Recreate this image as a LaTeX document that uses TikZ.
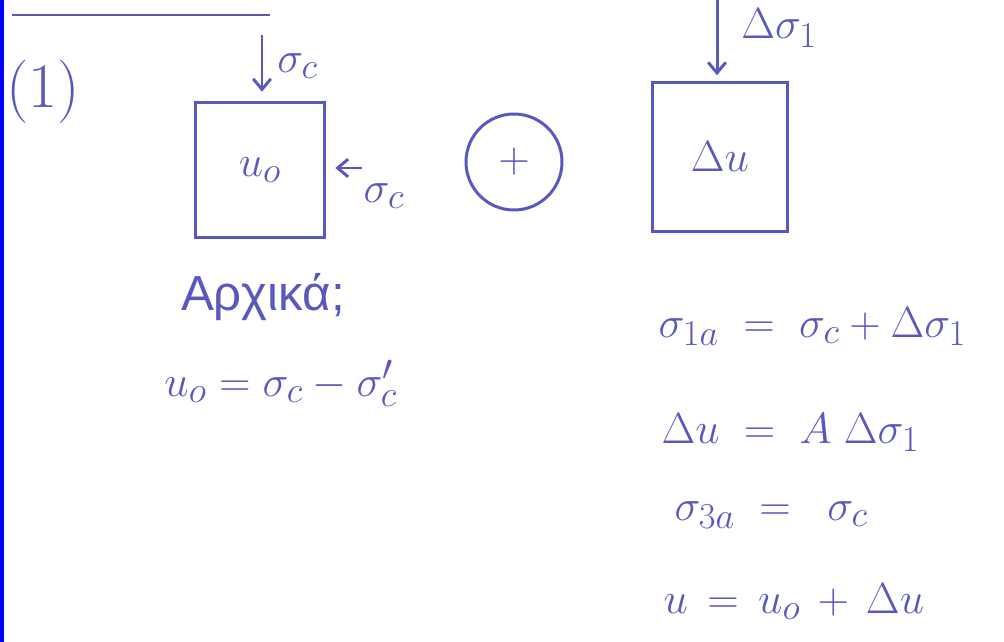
\documentclass[tikz,border=0pt]{standalone}
\usepackage{fontspec}
\usetikzlibrary{arrows.meta}
\newfontfamily\greekfont{Liberation Sans}
\definecolor{ink}{RGB}{88,88,190}
\begin{document}
\begin{tikzpicture}[x=0.02cm, y=-0.02cm, line width=1.7pt, color=ink,
    >={Straight Barb[length=6pt,width=10pt]},
    font=\fontsize{30}{36}\selectfont,
    elem/.style={draw, inner sep=0pt},
    eq/.style={anchor=base west, inner sep=0pt, font=\fontsize{32}{38}\selectfont},
    load/.style={->, shorten >=5pt}]
    \useasboundingbox (0,0) rectangle (1004,642);
    \fill[blue] (0,0) rectangle (4,642);

    % Header
    \draw[line width=1.1pt] (12,15) -- (270,15);
    \node[font=\fontsize{36}{42}\selectfont] (num) at (43,92) {(1)};

    % Initial state
    \node[elem, minimum width=2.6cm, minimum height=2.72cm] (box0) at (260,170) {$u_o$};
    \coordinate (top0) at (262,35);
    \draw[load] (top0) -- (top0 |- box0.north);
    \node[anchor=west] (sc0) at (270,66) {$\sigma_c$};
    \coordinate (side0) at (362,168);
    \draw[load] (side0) -- (side0 -| box0.east);
    \node (sc1) at (384,196) {$\sigma_c$};

    % Superposition
    \node[draw, circle, minimum size=1.92cm, font=\fontsize{38}{44}\selectfont] (plus) at (514,162) {$+$};

    % Load increment
    \node[elem, minimum width=2.7cm, minimum height=3cm] (box1) at (720,157) {$\Delta u$};
    \coordinate (top1) at (717,0);
    \draw[load, shorten >=3pt] (top1) -- (top1 |- box1.north);
    \node[anchor=west] (ds1) at (734,28) {$\Delta\sigma_1$};

    % Initial equations
    \node[font=\fontsize{28}{34}\selectfont\greekfont] (init) at (263,297) {Αρχικά;};
    \node[eq, font=\fontsize{32}{38}\selectfont] (eq0) at (163,396) {$u_o = \sigma_c - \sigma_c'$};

    % Final equations
    \node[eq] (eq1) at (657,337) {$\sigma_{1a} \;=\; \sigma_c + \Delta\sigma_1$};
    \node[eq] (eq2) at (660,443) {$\Delta u \;=\; A\;\Delta\sigma_1$};
    \node[eq] (eq3) at (673,520) {$\sigma_{3a} \;=\;\; \sigma_c$};
    \node[eq] (eq4) at (662,613) {$u \,=\, u_o \,+\, \Delta u$};
\end{tikzpicture}
\end{document}
